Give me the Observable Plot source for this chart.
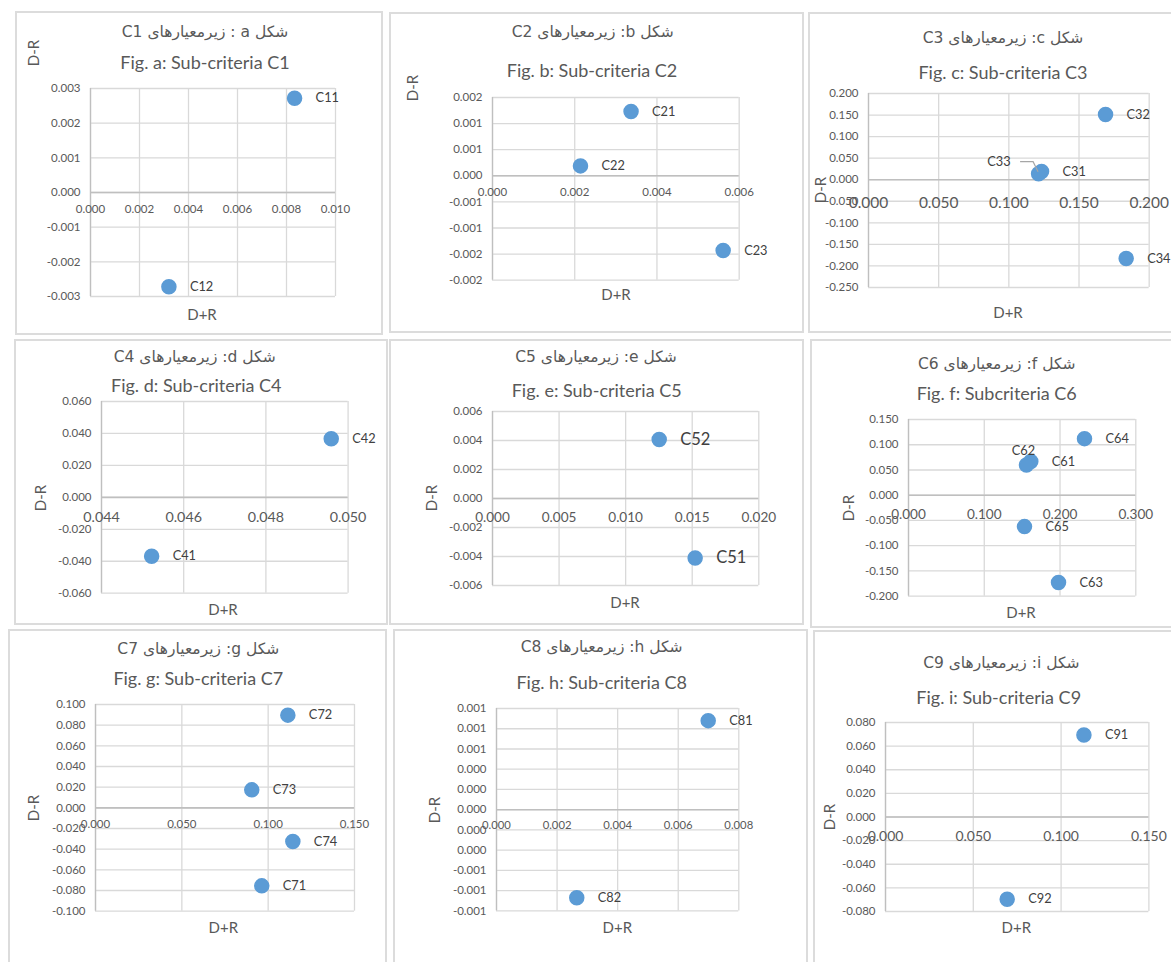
<!DOCTYPE html>
<html>
<head>
<meta charset="utf-8">
<script src="https://cdn.jsdelivr.net/npm/d3@7"></script>
<script src="https://cdn.jsdelivr.net/npm/@observablehq/plot@0.6"></script>
<style>
  html, body { margin: 0; padding: 0; background: #ffffff; }
  #root { position: relative; width: 1171px; height: 962px; overflow: hidden; background: #fff;
          font-family: Lato, "DejaVu Sans", sans-serif; color: #595959; }
  .box { position: absolute; border: 2px solid #dcdcdc; box-sizing: border-box; }
  .t { position: absolute; white-space: nowrap; transform: translate(-50%, -50%); line-height: 1; }
  .fa { font-family: "DejaVu Sans", sans-serif; font-size: 15.5px; direction: rtl; unicode-bidi: isolate; }
  .en { font-size: 18px; }
  .ax { font-size: 15px; }
  .rot { transform: translate(-50%, -50%) rotate(-90deg); }
</style>
</head>
<body>
<div id="root"></div>
<script>
// ---------------- DATA ----------------
const c1Labels = ["C11", "C12"];
const c1SumDR  = [0.00833, 0.00320];
const c1DiffDR = [0.00272, -0.00272];

const c2Labels = ["C21", "C22", "C23"];
const c2SumDR  = [0.00337, 0.00214, 0.00561];
const c2DiffDR = [0.00123, 0.00019, -0.00143];

const c3Labels = ["C31", "C32", "C33", "C34"];
const c3SumDR  = [0.1233, 0.1689, 0.1212, 0.1836];
const c3DiffDR = [0.0193, 0.1515, 0.0139, -0.1830];

const c4Labels = ["C41", "C42"];
const c4SumDR  = [0.04522, 0.04959];
const c4DiffDR = [-0.0369, 0.0367];

const c5Labels = ["C51", "C52"];
const c5SumDR  = [0.01522, 0.01252];
const c5DiffDR = [-0.00410, 0.00407];

const c6Labels = ["C61", "C62", "C63", "C64", "C65"];
const c6SumDR  = [0.1614, 0.1557, 0.1980, 0.2323, 0.1531];
const c6DiffDR = [0.0666, 0.0600, -0.1730, 0.1121, -0.0622];

const c7Labels = ["C71", "C72", "C73", "C74"];
const c7SumDR  = [0.0963, 0.1114, 0.0905, 0.1143];
const c7DiffDR = [-0.0755, 0.0897, 0.0174, -0.0326];

const c8Labels = ["C81", "C82"];
const c8SumDR  = [0.00699, 0.00265];
const c8DiffDR = [0.00088, -0.00087];

const c9Labels = ["C91", "C92"];
const c9SumDR  = [0.1130, 0.0693];
const c9DiffDR = [0.0695, -0.0697];

// tick values
const c1XTicks = [0, 0.002, 0.004, 0.006, 0.008, 0.010];
const c1YTicks = [-0.003, -0.002, -0.001, 0, 0.001, 0.002, 0.003];
const c2XTicks = [0, 0.002, 0.004, 0.006];
const c2YTicks = [-0.002, -0.0015, -0.001, -0.0005, 0, 0.0005, 0.001, 0.0015];
const c3XTicks = [0, 0.05, 0.10, 0.15, 0.20];
const c3YTicks = [-0.25, -0.20, -0.15, -0.10, -0.05, 0, 0.05, 0.10, 0.15, 0.20];
const c4XTicks = [0.044, 0.046, 0.048, 0.050];
const c4YTicks = [-0.06, -0.04, -0.02, 0, 0.02, 0.04, 0.06];
const c5XTicks = [0, 0.005, 0.010, 0.015, 0.020];
const c5YTicks = [-0.006, -0.004, -0.002, 0, 0.002, 0.004, 0.006];
const c6XTicks = [0, 0.1, 0.2, 0.3];
const c6YTicks = [-0.20, -0.15, -0.10, -0.05, 0, 0.05, 0.10, 0.15];
const c7XTicks = [0, 0.05, 0.10, 0.15];
const c7YTicks = [-0.10, -0.08, -0.06, -0.04, -0.02, 0, 0.02, 0.04, 0.06, 0.08, 0.10];
const c8XTicks = [0, 0.002, 0.004, 0.006, 0.008];
const c8YTicks = [-0.001, -0.0008, -0.0006, -0.0004, -0.0002, 0, 0.0002, 0.0004, 0.0006, 0.0008, 0.001];
const c9XTicks = [0, 0.05, 0.10, 0.15];
const c9YTicks = [-0.08, -0.06, -0.04, -0.02, 0, 0.02, 0.04, 0.06, 0.08];

// titles
const faTitles = ["شکل a :  زیرمعیارهای C1", "شکل b: زیرمعیارهای C2", "شکل c: زیرمعیارهای C3",
                  "شکل d: زیرمعیارهای C4", "شکل e: زیرمعیارهای C5", "شکل f: زیرمعیارهای C6",
                  "شکل g:  زیرمعیارهای C7", "شکل h: زیرمعیارهای C8", "شکل i: زیرمعیارهای C9"];
const enTitles = ["Fig. a: Sub-criteria C1", "Fig. b: Sub-criteria C2", "Fig. c: Sub-criteria C3",
                  "Fig. d: Sub-criteria C4", "Fig. e: Sub-criteria C5", "Fig. f: Subcriteria C6",
                  "Fig. g: Sub-criteria C7", "Fig. h: Sub-criteria C8", "Fig. i: Sub-criteria C9"];
const xTitle = "D+R";
const yTitle = "D-R";

// ---------------- LAYOUT (positions / styles) ----------------
const series = [
  {labels: c1Labels, xs: c1SumDR, ys: c1DiffDR, xt: c1XTicks, yt: c1YTicks},
  {labels: c2Labels, xs: c2SumDR, ys: c2DiffDR, xt: c2XTicks, yt: c2YTicks},
  {labels: c3Labels, xs: c3SumDR, ys: c3DiffDR, xt: c3XTicks, yt: c3YTicks},
  {labels: c4Labels, xs: c4SumDR, ys: c4DiffDR, xt: c4XTicks, yt: c4YTicks},
  {labels: c5Labels, xs: c5SumDR, ys: c5DiffDR, xt: c5XTicks, yt: c5YTicks},
  {labels: c6Labels, xs: c6SumDR, ys: c6DiffDR, xt: c6XTicks, yt: c6YTicks},
  {labels: c7Labels, xs: c7SumDR, ys: c7DiffDR, xt: c7XTicks, yt: c7YTicks},
  {labels: c8Labels, xs: c8SumDR, ys: c8DiffDR, xt: c8XTicks, yt: c8YTicks},
  {labels: c9Labels, xs: c9SumDR, ys: c9DiffDR, xt: c9XTicks, yt: c9YTicks}
];
// frame: left, right, top, bottom; box: left, top, right, bottom
const layout = [
  {frame: [90, 335, 87.7, 295.7],    box: [15, 11, 383, 335],   fa: [205, 33],    en: [205, 62],    yl: [33, 53],     xl: [202, 314],   xfs: 11.5, xdy: 17.3, lfs: 12.8},
  {frame: [492, 738.7, 97.3, 280],   box: [389, 12, 804, 333],  fa: [592.7, 33],  en: [592, 70],    yl: [412, 88],    xl: [616, 294],   xfs: 11.5, xdy: 16.7, lfs: 12.8},
  {frame: [868, 1148.7, 92.7, 286.7],box: [808, 12, 1180, 333], fa: [1003, 39],   en: [1003, 71.7], yl: [819.7, 190], xl: [1008, 311.7],xfs: 15.5, xdy: 23.4, lfs: 12.8},
  {frame: [100.7, 347.3, 401, 592.7],box: [14, 339, 388, 625],  fa: [194.7, 357.7], en: [196.3, 385], yl: [39.7, 498], xl: [223, 609], xfs: 14.3, xdy: 19.7, lfs: 12.8},
  {frame: [492, 758.3, 411, 585],    box: [389, 339, 804, 625], fa: [596, 357.7], en: [596.7, 390], yl: [431, 498],   xl: [625, 601.7], xfs: 13.6, xdy: 19.4, lfs: 16.5},
  {frame: [907.7, 1135, 419.3, 596], box: [810, 339, 1180, 628],fa: [996.7, 365], en: [996.7, 393.3], yl: [848.3, 508.3], xl: [1021, 611.7], xfs: 13.6, xdy: 19.7, lfs: 12.8},
  {frame: [95, 354, 704, 910.7],     box: [8, 629, 387, 970],   fa: [198.3, 650], en: [198.3, 677.7], yl: [33.3, 808.3], xl: [223.3, 926.7], xfs: 11.5, xdy: 16.3, lfs: 12.8},
  {frame: [496, 738.3, 708.3, 910.7],box: [393, 629, 808, 970], fa: [601.7, 648.3], en: [601.7, 681.7], yl: [434.3, 810], xl: [617.3, 926.7], xfs: 11.3, xdy: 16, lfs: 12.8},
  {frame: [885.3, 1148.7, 721.7, 910.7], box: [813, 630, 1180, 970], fa: [1001.3, 664.3], en: [998.7, 696.7], yl: [828.7, 816.7], xl: [1016.3, 926.7], xfs: 14, xdy: 19.7, lfs: 12.8}
];
// per-label placement overrides
const labelPlace = {
  C33: {dx: -28, dy: -12, anchor: "end", leader: true},
  C62: {dx: -3, dy: -14, anchor: "middle"}
};

const TXT = "#595959", LBL = "#404040", GRID = "#d9d9d9", AXIS = "#bfbfbf", DOT = "#5b9bd5";

function excelFmt(v) {
  const r = Math.round(Math.abs(v) * 1000 + 1e-9) / 1000;
  const s = r.toFixed(3);
  return (v < 0 && r !== 0 ? "-" : "") + s;
}

const root = document.getElementById("root");

function addText(cls, txt, pos) {
  const d = document.createElement("div");
  d.className = "t " + cls;
  d.textContent = txt;
  d.style.left = pos[0] + "px";
  d.style.top = pos[1] + "px";
  root.appendChild(d);
  return d;
}

series.forEach((s, i) => {
  const L = layout[i];
  const [bl, bt, br, bb] = L.box;
  const box = document.createElement("div");
  box.className = "box";
  Object.assign(box.style, {left: bl + "px", top: bt + "px", width: (br - bl) + "px", height: (bb - bt) + "px"});
  root.appendChild(box);
});

series.forEach((s, i) => {
  const L = layout[i];
  const [fl, fr, ft, fb] = L.frame;
  const ml = 70, mr = 70, mt = 12, mb = 50;
  const xDomain = [s.xt[0], s.xt[s.xt.length - 1]];
  const yDomain = [s.yt[0], s.yt[s.yt.length - 1]];
  const data = s.labels.map((n, k) => ({name: n, x: s.xs[k], y: s.ys[k]}));
  const plain = data.filter(d => !labelPlace[d.name]);
  const special = data.filter(d => labelPlace[d.name]);

  const marks = [
    Plot.ruleX(s.xt, {stroke: GRID, strokeWidth: 1.3}),
    Plot.ruleY(s.yt, {stroke: GRID, strokeWidth: 1.3}),
    Plot.ruleX([xDomain[0]], {stroke: AXIS, strokeWidth: 1.3}),
    Plot.ruleY([0], {stroke: AXIS, strokeWidth: 1.6}),
    Plot.text(s.yt, {x: xDomain[0], y: d => d, text: excelFmt, textAnchor: "end", dx: -10, fontSize: 11.5, fill: TXT}),
    Plot.text(s.xt, {x: d => d, y: 0, text: excelFmt, dy: L.xdy, fontSize: L.xfs, fill: TXT}),
    Plot.dot(data, {x: "x", y: "y", r: 7, fill: DOT, stroke: DOT}),
    Plot.text(plain, {x: "x", y: "y", text: "name", dx: 21, textAnchor: "start", fontSize: L.lfs, fill: LBL})
  ];
  special.forEach(d => {
    const p = labelPlace[d.name];
    marks.push(Plot.text([d], {x: "x", y: "y", text: "name", dx: p.dx, dy: p.dy, textAnchor: p.anchor, fontSize: L.lfs, fill: LBL}));
    if (p.leader) {
      marks.push((index, scales) => {
        const px = scales.x(d.x), py = scales.y(d.y);
        const path = d3.create("svg:path")
          .attr("d", `M${px - 18},${py - 11.6}L${px - 5},${py - 11.6}L${px},${py - 1.5}`)
          .attr("fill", "none").attr("stroke", "#a6a6a6").attr("stroke-width", 1.2);
        return path.node();
      });
    }
  });

  const chart = Plot.plot({
    width: (fr - fl) + ml + mr,
    height: (fb - ft) + mt + mb,
    marginLeft: ml, marginRight: mr, marginTop: mt, marginBottom: mb,
    x: {domain: xDomain, axis: null},
    y: {domain: yDomain, axis: null},
    style: {fontFamily: "Lato, 'DejaVu Sans', sans-serif", background: "transparent", overflow: "visible", maxWidth: "none"},
    marks
  });
  chart.style.position = "absolute";
  chart.style.left = (fl - ml) + "px";
  chart.style.top = (ft - mt) + "px";
  root.appendChild(chart);

  addText("fa", faTitles[i], L.fa);
  addText("en", enTitles[i], L.en);
  addText("ax rot", yTitle, L.yl);
  addText("ax", xTitle, L.xl);
});
</script>
</body>
</html>
